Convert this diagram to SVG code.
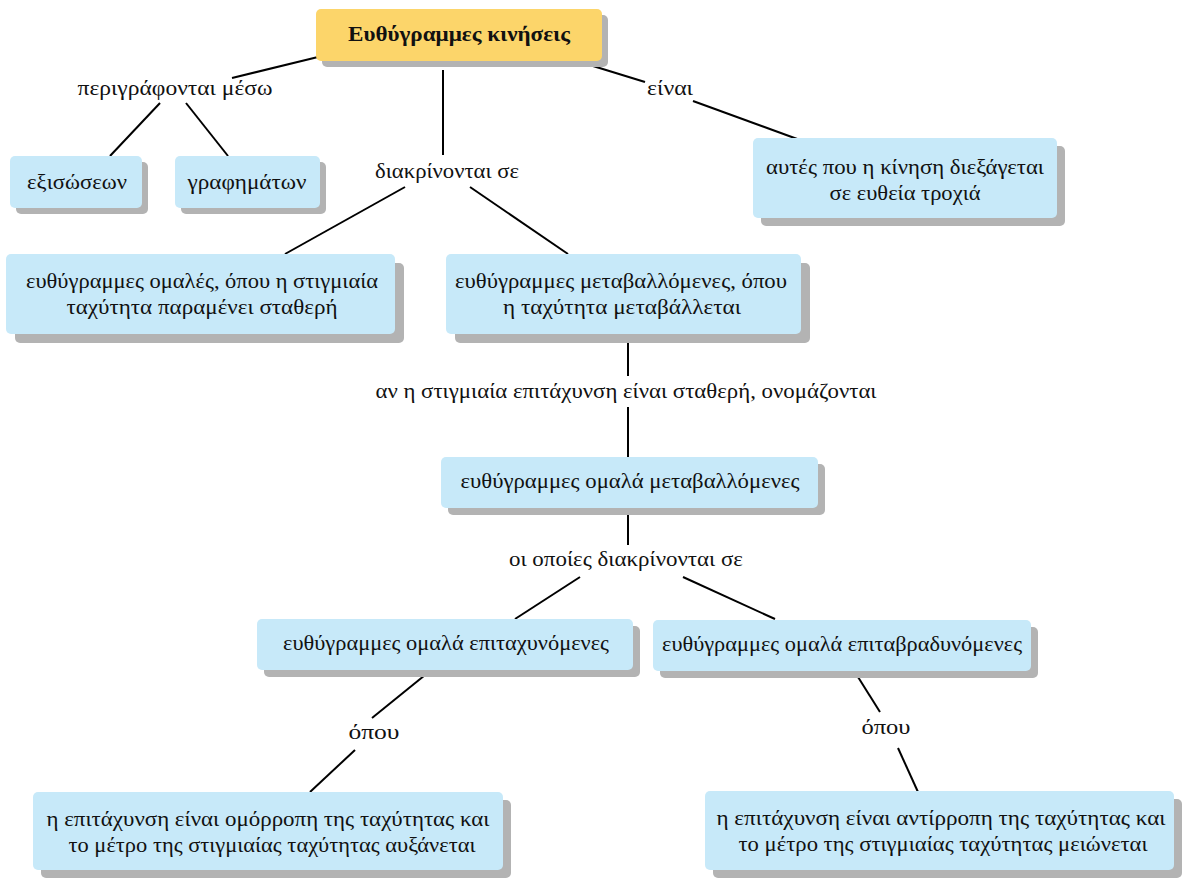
<svg xmlns="http://www.w3.org/2000/svg" width="1184" height="878" viewBox="0 0 1184 878">
<defs>
<style>
.box{fill:#c7e9f9;}
.top{fill:#fcd56a;}
.sh{fill:#b3b3b3;}
text{font-family:"Liberation Serif","DejaVu Serif",serif;font-size:20px;fill:#111;text-anchor:middle;}
.b{font-weight:bold;}
.ln{stroke:#000;stroke-width:2;fill:none;}
</style>
</defs>
<g id="connectors" class="ln">
<line x1="318" y1="57" x2="232" y2="78"/>
<line x1="160" y1="103" x2="110" y2="156"/>
<line x1="186" y1="103" x2="228" y2="156"/>
<line x1="443" y1="70" x2="443" y2="155"/>
<line x1="580" y1="62" x2="645" y2="82"/>
<line x1="693" y1="101" x2="800" y2="140"/>
<line x1="405" y1="187" x2="285" y2="254"/>
<line x1="470" y1="187" x2="568" y2="254"/>
<line x1="628" y1="342" x2="628" y2="376"/>
<line x1="628" y1="407" x2="628" y2="457"/>
<line x1="628" y1="515" x2="628" y2="545"/>
<line x1="580" y1="577" x2="515" y2="619"/>
<line x1="683" y1="577" x2="775" y2="619"/>
<line x1="430" y1="671" x2="372" y2="718"/>
<line x1="355" y1="750" x2="310" y2="792"/>
<line x1="858" y1="677" x2="880" y2="712"/>
<line x1="898" y1="748" x2="918" y2="792"/>
</g>
<g id="n-top">
<rect class="sh" x="322" y="15" width="286" height="52" rx="5"/>
<rect class="top" x="316" y="9" width="286" height="52" rx="5"/>
<text class="b" x="459" y="41" textLength="222" lengthAdjust="spacingAndGlyphs">Ευθύγραμμες κινήσεις</text>
</g>
<g id="l-perigrafontai"><text x="175" y="95" textLength="195" lengthAdjust="spacingAndGlyphs">περιγράφονται μέσω</text></g>
<g id="l-diakrinontai"><text x="447" y="178" textLength="144" lengthAdjust="spacingAndGlyphs">διακρίνονται σε</text></g>
<g id="l-einai"><text x="670" y="95" textLength="46" lengthAdjust="spacingAndGlyphs">είναι</text></g>
<g id="n-exisoseon">
<rect class="sh" x="16" y="162" width="132" height="52" rx="5"/>
<rect class="box" x="10" y="156" width="132" height="52" rx="5"/>
<text x="77" y="189" textLength="100" lengthAdjust="spacingAndGlyphs">εξισώσεων</text>
</g>
<g id="n-grafimaton">
<rect class="sh" x="181" y="162" width="145" height="52" rx="5"/>
<rect class="box" x="175" y="156" width="145" height="52" rx="5"/>
<text x="247" y="189" textLength="119" lengthAdjust="spacingAndGlyphs">γραφημάτων</text>
</g>
<g id="n-eutheia">
<rect class="sh" x="761" y="146" width="304" height="80" rx="5"/>
<rect class="box" x="753" y="138" width="304" height="80" rx="5"/>
<text x="905" y="174" textLength="278" lengthAdjust="spacingAndGlyphs">αυτές που η κίνηση διεξάγεται</text>
<text x="905" y="200" textLength="151" lengthAdjust="spacingAndGlyphs">σε ευθεία τροχιά</text>
</g>
<g id="n-omales">
<rect class="sh" x="15" y="263" width="389" height="80" rx="5"/>
<rect class="box" x="6" y="254" width="389" height="80" rx="5"/>
<text x="202" y="288" textLength="352" lengthAdjust="spacingAndGlyphs">ευθύγραμμες ομαλές, όπου η στιγμιαία</text>
<text x="202" y="314" textLength="271" lengthAdjust="spacingAndGlyphs">ταχύτητα παραμένει σταθερή</text>
</g>
<g id="n-metavallomenes">
<rect class="sh" x="455" y="263" width="355" height="80" rx="5"/>
<rect class="box" x="446" y="254" width="355" height="80" rx="5"/>
<text x="621" y="288" textLength="332" lengthAdjust="spacingAndGlyphs">ευθύγραμμες μεταβαλλόμενες, όπου</text>
<text x="622" y="314" textLength="238" lengthAdjust="spacingAndGlyphs">η ταχύτητα μεταβάλλεται</text>
</g>
<g id="l-an"><text x="626" y="398" textLength="501" lengthAdjust="spacingAndGlyphs">αν η στιγμιαία επιτάχυνση είναι σταθερή, ονομάζονται</text></g>
<g id="n-omala-metav">
<rect class="sh" x="448" y="464" width="377" height="51" rx="5"/>
<rect class="box" x="441" y="457" width="377" height="51" rx="5"/>
<text x="630" y="488" textLength="339" lengthAdjust="spacingAndGlyphs">ευθύγραμμες ομαλά μεταβαλλόμενες</text>
</g>
<g id="l-oi-opoies"><text x="626" y="566" textLength="234" lengthAdjust="spacingAndGlyphs">οι οποίες διακρίνονται σε</text></g>
<g id="n-epitax">
<rect class="sh" x="264" y="626" width="376" height="51" rx="5"/>
<rect class="box" x="257" y="619" width="376" height="51" rx="5"/>
<text x="446" y="650" textLength="326" lengthAdjust="spacingAndGlyphs">ευθύγραμμες ομαλά επιταχυνόμενες</text>
</g>
<g id="n-epivrad">
<rect class="sh" x="660" y="627" width="378" height="51" rx="5"/>
<rect class="box" x="653" y="620" width="378" height="51" rx="5"/>
<text x="842" y="651" textLength="360" lengthAdjust="spacingAndGlyphs">ευθύγραμμες ομαλά επιταβραδυνόμενες</text>
</g>
<g id="l-opou1"><text x="374" y="739" textLength="51" lengthAdjust="spacingAndGlyphs">όπου</text></g>
<g id="l-opou2"><text x="886" y="734" textLength="49" lengthAdjust="spacingAndGlyphs">όπου</text></g>
<g id="n-omorropi">
<rect class="sh" x="41" y="800" width="470" height="78" rx="5"/>
<rect class="box" x="33" y="792" width="470" height="78" rx="5"/>
<text x="268" y="826" textLength="443" lengthAdjust="spacingAndGlyphs">η επιτάχυνση είναι ομόρροπη της ταχύτητας και</text>
<text x="272" y="852" textLength="407" lengthAdjust="spacingAndGlyphs">το μέτρο της στιγμιαίας ταχύτητας αυξάνεται</text>
</g>
<g id="n-antirropi">
<rect class="sh" x="713" y="799" width="469" height="79" rx="5"/>
<rect class="box" x="705" y="791" width="469" height="79" rx="5"/>
<text x="941" y="825" textLength="449" lengthAdjust="spacingAndGlyphs">η επιτάχυνση είναι αντίρροπη της ταχύτητας και</text>
<text x="943" y="851" textLength="409" lengthAdjust="spacingAndGlyphs">το μέτρο της στιγμιαίας ταχύτητας μειώνεται</text>
</g>
</svg>
